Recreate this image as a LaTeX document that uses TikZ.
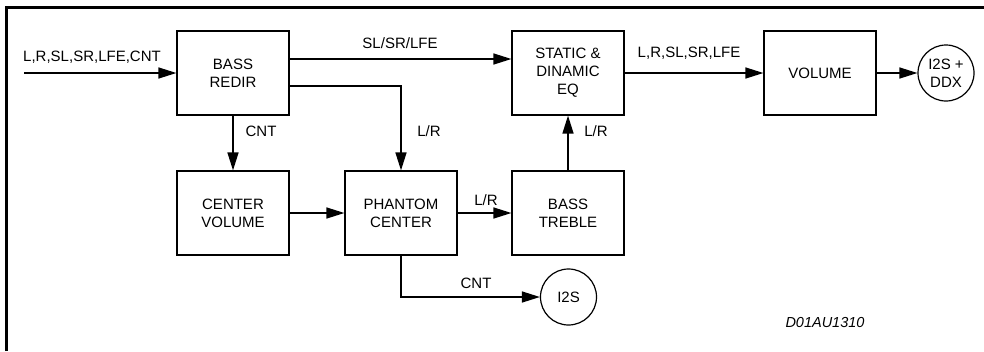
\documentclass[tikz,border=0pt]{standalone}
\usepackage{fontspec}
\setmainfont{Liberation Sans}
\usetikzlibrary{arrows.meta}
\begin{document}
\begin{tikzpicture}[x=1pt,y=-1pt,
  font=\fontsize{15}{18}\selectfont,
  blockbox/.style={draw,line width=1.2pt,minimum width=112pt,minimum height=84pt,inner sep=0pt,align=center},
  portcircle/.style={draw,circle,line width=1.2pt,minimum size=56pt,inner sep=0pt,align=center},
  arr/.style={line width=1.4pt,-{Triangle[length=18pt,width=11pt]}},
  lbl/.style={inner sep=0pt,align=center}]
\useasboundingbox (0,0) rectangle (984,351);
\draw[line width=2.2pt] (6.5,351) -- (6.5,7.5) -- (984,7.5);

\node[blockbox] (bassredir) at (233,73) {BASS\\REDIR};
\node[blockbox] (static) at (568,73) {STATIC \&\\DINAMIC\\EQ};
\node[blockbox] (volume) at (820,73) {VOLUME};
\node[portcircle] (io) at (946,73) {I2S +\\DDX};
\node[blockbox] (centervol) at (233,213) {CENTER\\VOLUME};
\node[blockbox] (phantom) at (401,213) {PHANTOM\\CENTER};
\node[blockbox] (basstreble) at (568,213) {BASS\\TREBLE};
\node[portcircle] (i2s) at (568.5,297) {I2S};

\coordinate (in) at (24,73);
\draw[arr] (in) -- (bassredir.west);
\node[lbl] (inlbl) at (92,57) {L,R,SL,SR,LFE,CNT};

\draw[arr] ([yshift=14pt]bassredir.east) -- ([yshift=14pt]static.west);
\node[lbl] (surlbl) at (400,43) {SL/SR/LFE};

\draw[arr] ([yshift=-13pt]bassredir.east) -| (phantom.north);
\node[lbl] (lr1) at (429,131) {L/R};

\draw[arr] (bassredir.south) -- (centervol.north);
\node[lbl] (cnt1) at (261,131) {CNT};

\draw[arr] (static.east) -- (volume.west);
\node[lbl] (outlbl) at (689,53) {L,R,SL,SR,LFE};

\draw[arr] (volume.east) -- (io.west);
\draw[arr] (centervol.east) -- (phantom.west);
\draw[arr] (phantom.east) -- (basstreble.west);
\node[lbl] (lr2) at (486,200) {L/R};

\draw[arr] (basstreble.north) -- (static.south);
\node[lbl] (lr3) at (596,131) {L/R};

\draw[arr] (phantom.south) |- (i2s.west);
\node[lbl] (cnt2) at (476,283) {CNT};

\node[lbl,font=\fontsize{14.5}{17}\selectfont\itshape] (code) at (825,323) {D01AU1310};
\end{tikzpicture}
\end{document}
